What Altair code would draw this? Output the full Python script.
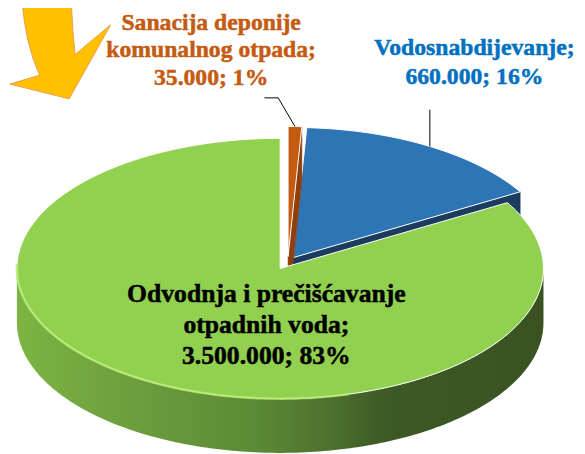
import altair as alt
import numpy as np
import pandas as pd

# ---------------- data ----------------
categories = ["Sanacija deponije komunalnog otpada", "Vodosnabdijevanje",
              "Odvodnja i prečišćavanje otpadnih voda"]
values = [35000, 660000, 3500000]
label_lines = [["Sanacija deponije", "komunalnog otpada;"],
               ["Vodosnabdijevanje;"],
               ["Odvodnja i prečišćavanje", "otpadnih voda;"]]

# ---------------- style / layout ----------------
top_colors = ["#C55A11", "#2E75B6", "#92D050"]
side_colors = ["#8E3F0B", "#1B3B5F", "#5A8A30"]
text_colors = ["#C55A11", "#0070C0", "#000000"]
FONT = "Liberation Serif, Times New Roman, DejaVu Serif, serif"
CX, CY, RX, RY, DEPTH = 284, 269, 267, 132, 55
explode = [(8, -12), (13, -11), (0, 0)]
label_pos = [(214, 27, 28, 24), (481, 53, 29, 24), (270, 303, 31.5, 26)]  # x, first baseline, line height, size
leader_start = [[(268, 96), (282, 96)], [None], None]

total = sum(values)
shares = [v / total for v in values]
cum = np.concatenate([[0], np.cumsum(shares)]) * 360.0


def pt(theta, off, dz=0.0):
    t = np.radians(theta)
    return (CX + off[0] + RX * np.sin(t), CY + off[1] - RY * np.cos(t) + dz)


def arc(t0, t1, off, dz=0.0):
    n = max(2, int(abs(t1 - t0)) + 2)
    return [pt(t, off, dz) for t in np.linspace(t0, t1, n)]


rows = []


def add(name, pts):
    for k, (x, y) in enumerate(pts):
        rows.append({"poly": name, "i": k, "x": float(x), "y": float(y)})


for idx in range(3):
    s, e = cum[idx], cum[idx + 1]
    off = explode[idx]
    apex = (CX + off[0], CY + off[1])
    apex_b = (apex[0], apex[1] + DEPTH)
    add(f"top{idx}", [apex] + arc(s, e, off) + [apex])
    if idx < 2:
        pe = pt(e, off)
        add(f"side{idx}", [apex, pe, (pe[0], pe[1] + DEPTH), apex_b, apex])
    w0, w1 = max(s, 90), min(e, 270)
    if w0 < w1:
        wall = arc(w0, w1, off) + arc(w1, w0, off, DEPTH)
        add(f"wall{idx}", wall + [wall[0]])
    mid = (s + e) / 2
    endp = pt(mid, off)
    if idx == 0:
        add("leader0", leader_start[0] + [endp])
    elif idx == 1:
        add("leader1", [(endp[0], 108), endp])

add("rim", arc(165, 272, explode[2]))

df = pd.DataFrame(rows)

xs = alt.Scale(domain=[8, 585], nice=False, zero=False)
ys = alt.Scale(domain=[8, 454], nice=False, zero=False, reverse=True)


def poly(name, **mk):
    return (alt.Chart(df)
            .transform_filter(alt.datum.poly == name)
            .mark_line(**mk)
            .encode(x=alt.X("x:Q", scale=xs, axis=None),
                    y=alt.Y("y:Q", scale=ys, axis=None),
                    order=alt.Order("i:Q")))


green_grad = alt.LinearGradient(
    gradient="linear", x1=0, x2=1, y1=0, y2=0,
    stops=[alt.GradientStop(color="#7DB443", offset=0),
           alt.GradientStop(color="#6A9B3C", offset=0.25),
           alt.GradientStop(color="#5C8A36", offset=0.45),
           alt.GradientStop(color="#4C702E", offset=0.6),
           alt.GradientStop(color="#3C5A25", offset=0.7),
           alt.GradientStop(color="#3A5222", offset=1)])

layers = [
    poly("side1", fill=side_colors[1], stroke=side_colors[1], strokeWidth=0.5),
    poly("top1", fill=top_colors[1], stroke="white", strokeWidth=1),
    poly("side0", fill=side_colors[0], stroke=side_colors[0], strokeWidth=0.5),
    poly("top0", fill=top_colors[0], stroke="white", strokeWidth=1),
    poly("wall2", fill=green_grad, stroke=None, strokeWidth=0),
    poly("top2", fill=top_colors[2], stroke="white", strokeWidth=1),
    poly("rim", stroke="#B2EA6E", strokeWidth=2.5, opacity=0.85),
    poly("leader0", stroke="#000000", strokeWidth=1),
    poly("leader1", stroke="#000000", strokeWidth=1),
]


def fmt(v):
    return f"{v:,}".replace(",", ".")


for idx in range(3):
    pct = round(values[idx] / total * 100)
    lines = label_lines[idx] + [f"{fmt(values[idx])}; {pct}%"]
    x, y, lh, fs = label_pos[idx]
    tdf = pd.DataFrame({"x": [x], "y": [y], "t": [lines]})
    layers.append(
        alt.Chart(tdf).mark_text(font=FONT, fontWeight="bold",
                                 fontSize=fs, lineHeight=lh, align="center",
                                 baseline="alphabetic", fill=text_colors[idx],
                                 stroke=text_colors[idx], strokeWidth=0.5)
        .encode(x=alt.X("x:Q", scale=xs, axis=None),
                y=alt.Y("y:Q", scale=ys, axis=None),
                text="t"))

# decorative arrow (top-left)
arrow_path = ("M 22 -6 Q 25 40 40 73 L 10 82 L 70 97 L 112 22 L 76 52 "
              "Q 73 25 72 -6 Z")
layers.append(
    alt.Chart(pd.DataFrame({"a": [0]})).mark_point(
        shape=arrow_path, size=4, filled=True, fill="#FFC000",
        stroke="#ED9A45", strokeWidth=1, opacity=1)
    .encode(x=alt.value(-8), y=alt.value(-8)))

chart = alt.layer(*layers).properties(
    width=577, height=446, padding=0, autosize="none", background="white"
).configure_view(stroke=None)

chart.save("out.html", embed_options={"renderer": "svg", "actions": False})
